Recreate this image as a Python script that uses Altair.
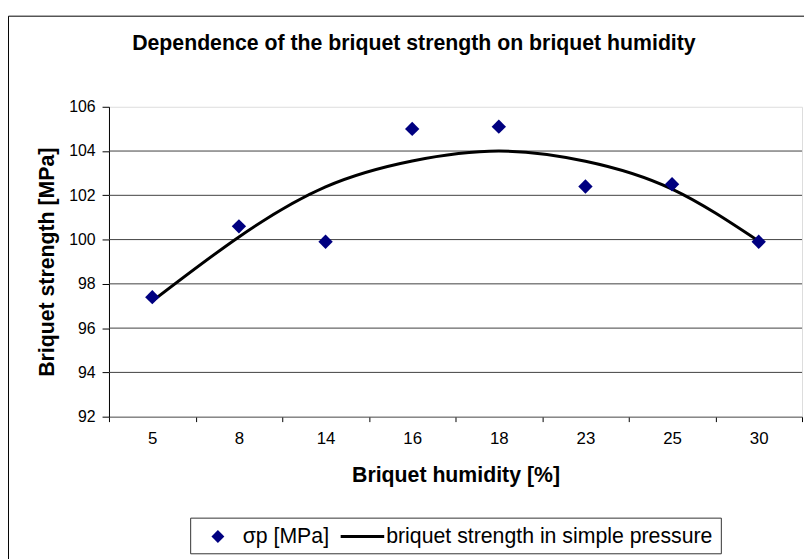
import altair as alt
import pandas as pd

humidity = ["5", "8", "14", "16", "18", "23", "25", "30"]
strength = [97.4, 100.6, 99.9, 105.0, 105.1, 102.4, 102.5, 99.9]
trend = [97.22, 100.12, 102.38, 103.55, 104.0, 103.54, 102.28, 99.93]
y_ticks = [92, 94, 96, 98, 100, 102, 104, 106]
grid_values = [94, 96, 98, 100, 102, 104]
series_names = ["σp [MPa]", "briquet strength in simple pressure"]
title_text = "Dependence of the briquet strength on briquet humidity"

FONT = "Liberation Sans"
NAVY = "#000080"

df = pd.DataFrame({"humidity": humidity, "strength": strength, "trend": trend})
grid_df = pd.DataFrame({"g": grid_values})

x_scale = alt.Scale(type="band", paddingInner=0, paddingOuter=0)
y_scale = alt.Scale(domain=[92, 106], nice=False, zero=False)

x_axis = alt.Axis(
    title="Briquet humidity [%]", labelAngle=0, tickBand="extent", grid=False,
    domainColor="#555555", tickColor="black", tickSize=5, labelFontSize=17,
    labelPadding=9, titleFontSize=21.5, titleFontWeight="bold", titlePadding=18,
    labelFont=FONT, titleFont=FONT, labelColor="black", titleColor="black",
)
y_axis = alt.Axis(
    values=y_ticks, title="Briquet strength [MPa]", grid=False,
    domainColor="black", tickColor="black", tickSize=7,
    labelFontSize=16, labelPadding=7, titleFontSize=21.5, titleFontWeight="bold",
    titlePadding=10, labelFont=FONT, titleFont=FONT, labelColor="black",
    titleColor="black",
)

base = alt.Chart(df)

grid = alt.Chart(grid_df).mark_rule(color="#404040", strokeWidth=1).encode(
    y=alt.Y("g:Q", scale=y_scale, axis=y_axis)
)

points = base.mark_point(shape="diamond", filled=True, color=NAVY, size=210, opacity=1).encode(
    x=alt.X("humidity:N", sort=humidity, scale=x_scale, axis=x_axis),
    y=alt.Y("strength:Q", scale=y_scale, axis=y_axis),
)

line = base.mark_line(color="black", strokeWidth=3, interpolate="natural").encode(
    x=alt.X("humidity:N", sort=humidity, scale=x_scale, axis=x_axis),
    y=alt.Y("trend:Q", scale=y_scale, axis=y_axis),
)

one = pd.DataFrame({"k": [0]})

frame = alt.Chart(one).mark_rect(fillOpacity=0, stroke="black", strokeWidth=1).encode(
    x=alt.value(-101.5), x2=alt.value(760), y=alt.value(-91.5), y2=alt.value(520)
)

legend_box = alt.Chart(one).mark_rect(fillOpacity=0, stroke="#333333", strokeWidth=1).encode(
    x=alt.value(82.5), x2=alt.value(618.5), y=alt.value(415.5), y2=alt.value(451.5)
)
legend_diamond = alt.Chart(one).mark_point(shape="diamond", filled=True, color=NAVY, size=170, opacity=1).encode(
    x=alt.value(110), y=alt.value(434)
)
legend_text1 = alt.Chart(one).mark_text(align="left", baseline="middle", fontSize=21.5, font=FONT, color="black").encode(
    x=alt.value(135), y=alt.value(435), text=alt.value(series_names[0])
)
legend_line = alt.Chart(one).mark_rule(color="black", strokeWidth=3).encode(
    x=alt.value(234), x2=alt.value(278), y=alt.value(434)
)
legend_text2 = alt.Chart(one).mark_text(align="left", baseline="middle", fontSize=21.5, font=FONT, color="black").encode(
    x=alt.value(280), y=alt.value(435), text=alt.value(series_names[1])
)

chart = alt.layer(
    frame, grid, line, points, legend_box, legend_diamond, legend_text1, legend_line, legend_text2
).properties(
    width=700,
    height=313,
    title=alt.TitleParams(
        title_text, fontSize=21.5, fontWeight="bold", font=FONT, color="black",
        anchor="middle", frame="group", dx=-42, offset=-39,
    ),
    autosize=alt.AutoSizeParams(type="none"),
    padding={"left": 102, "top": 97, "right": 2, "bottom": 141},
).configure_view(stroke=None).configure(background="white")

chart.save("out.html", embed_options={"renderer": "svg", "actions": False})
